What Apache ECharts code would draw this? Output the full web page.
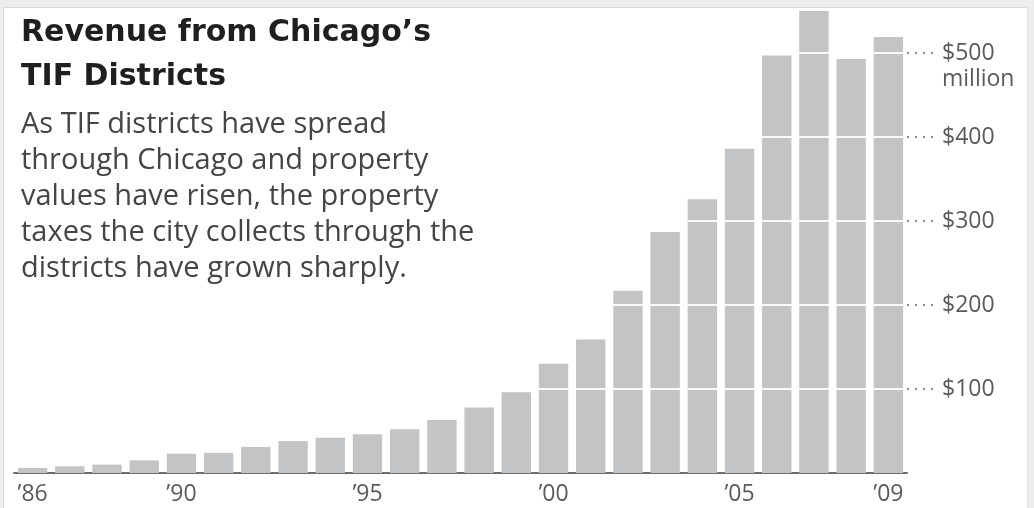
<!DOCTYPE html>
<html>
<head>
<meta charset="utf-8">
<title>Revenue from Chicago's TIF Districts</title>
<script src="https://cdn.jsdelivr.net/npm/echarts@6/dist/echarts.min.js"></script>
<style>
  body { margin: 0; background: #ededed; }
  #box { position: absolute; left: 3px; top: 7px; width: 1025px; height: 501px;
         background: #fff; border-left: 1px solid #dadada; border-top: 1px solid #dadada;
         border-right: 1px solid #e2e2e2; box-sizing: border-box; }
  #chart { position: absolute; left: 0; top: 0; width: 1034px; height: 508px; }
</style>
</head>
<body>
<div id="box"></div>
<div id="chart"></div>
<script>
// revenue in millions of dollars
var years = ['1986', '1987', '1988', '1989', '1990', '1991', '1992', '1993',
             '1994', '1995', '1996', '1997', '1998', '1999', '2000', '2001',
             '2002', '2003', '2004', '2005', '2006', '2007', '2008', '2009'];
var revenue = [6, 8, 10, 15, 23, 24, 31, 38,
               42, 46, 52, 63, 78, 96, 130, 159,
               217, 287, 326, 386, 497, 550, 493, 519];
var labelYears = ['1986', '1990', '1995', '2000', '2005', '2009'];
var yTicks = [100, 200, 300, 400, 500];

var chart = echarts.init(document.getElementById('chart'));

var option = {
    animation: false,
    title: [{
        text: 'Revenue from Chicago\u2019s\nTIF Districts',
        left: 16, top: 6,
        textStyle: { fontFamily: 'DejaVu Sans', fontWeight: 'bold', fontSize: 30,
                     lineHeight: 44, color: '#1f1f1f' }
    }, {
        text: 'As TIF districts have spread\nthrough Chicago and property\nvalues have risen, the property\ntaxes the city collects through the\ndistricts have grown sharply.',
        left: 16, top: 102,
        textStyle: { fontFamily: 'Open Sans', fontWeight: 'normal', fontSize: 29,
                     lineHeight: 36, color: '#454545' }
    }],
    grid: { left: 14, right: 127, top: 2.6, bottom: 35, containLabel: false },
    xAxis: {
        type: 'category',
        data: years,
        axisTick: { show: false },
        axisLine: { lineStyle: { color: '#6d6d6d', width: 2 } },
        axisLabel: {
            interval: function (idx, val) { return labelYears.indexOf(val) >= 0; },
            formatter: function (v) { return '\u2019' + v.slice(2); },
            fontFamily: 'Open Sans', fontSize: 23, color: '#5a5a5a', margin: 10
        }
    },
    yAxis: {
        type: 'value',
        position: 'right',
        min: 0, max: 560,
        splitLine: { show: false },
        axisLine: { show: false },
        axisTick: {
            show: true, length: 32, customValues: yTicks,
            lineStyle: { color: '#8a8a8a', width: 2, type: [2, 6] }
        },
        axisLabel: {
            customValues: yTicks,
            margin: 35,
            padding: [4, 0, 0, 0],
            fontFamily: 'Open Sans', fontSize: 23, color: '#5a5a5a', lineHeight: 26,
            formatter: function (v) {
                return v === 500 ? ' \n$' + v + '\nmillion' : '$' + v;
            }
        }
    },
    series: [{
        type: 'bar',
        data: revenue,
        barCategoryGap: '21%',
        itemStyle: { color: '#c3c4c6' },
        markLine: {
            silent: true,
            symbol: 'none',
            label: { show: false },
            lineStyle: { color: '#ffffff', width: 2, type: 'solid', opacity: 0.9 },
            data: yTicks.map(function (t) { return { yAxis: t }; })
        }
    }]
};

chart.setOption(option);
</script>
</body>
</html>
